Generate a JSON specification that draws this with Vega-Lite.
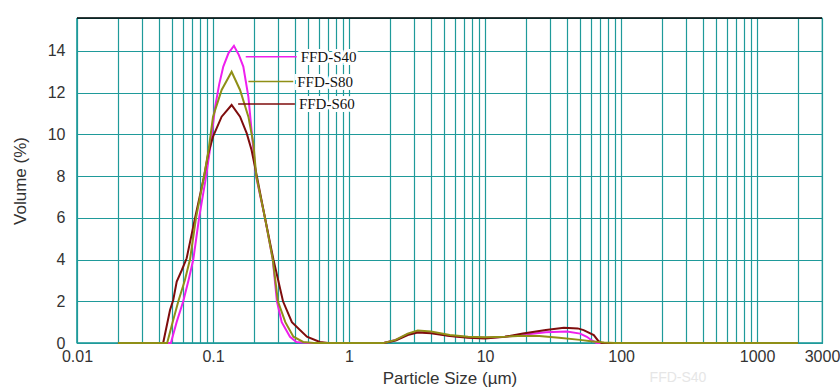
{
  "$schema": "https://vega.github.io/schema/vega-lite/v6.json",
  "width": 745,
  "height": 325,
  "autosize": {"type": "none"},
  "padding": {"left": 77, "top": 18, "right": 18, "bottom": 47},
  "background": "white",
  "config": {
    "view": {"stroke": "#1f9a9a", "strokeWidth": 1.2},
    "axis": {
      "labelFont": "Liberation Sans",
      "labelFontSize": 16,
      "labelColor": "#333333",
      "titleFont": "Liberation Sans",
      "titleFontSize": 17,
      "titleFontWeight": "normal",
      "titleColor": "#333333",
      "gridColor": "#1f9a9a",
      "gridOpacity": 1,
      "gridWidth": 1.2,
      "ticks": false,
      "domain": false
    }
  },
  "datasets": {
    "curves": [
      {"series": "FFD-S40", "size": 0.02, "volume": 0},
      {"series": "FFD-S40", "size": 0.049, "volume": 0},
      {"series": "FFD-S40", "size": 0.054, "volume": 1.0},
      {"series": "FFD-S40", "size": 0.0604, "volume": 2.0},
      {"series": "FFD-S40", "size": 0.066, "volume": 3.0},
      {"series": "FFD-S40", "size": 0.0716, "volume": 4.0},
      {"series": "FFD-S40", "size": 0.079, "volume": 6.0},
      {"series": "FFD-S40", "size": 0.089, "volume": 8.0},
      {"series": "FFD-S40", "size": 0.096, "volume": 9.5},
      {"series": "FFD-S40", "size": 0.1035, "volume": 11.3},
      {"series": "FFD-S40", "size": 0.111, "volume": 12.4},
      {"series": "FFD-S40", "size": 0.119, "volume": 13.25},
      {"series": "FFD-S40", "size": 0.13, "volume": 13.9},
      {"series": "FFD-S40", "size": 0.1425, "volume": 14.25},
      {"series": "FFD-S40", "size": 0.155, "volume": 13.8},
      {"series": "FFD-S40", "size": 0.167, "volume": 13.25},
      {"series": "FFD-S40", "size": 0.182, "volume": 11.8},
      {"series": "FFD-S40", "size": 0.192, "volume": 10.2},
      {"series": "FFD-S40", "size": 0.2, "volume": 9.0},
      {"series": "FFD-S40", "size": 0.207, "volume": 8.0},
      {"series": "FFD-S40", "size": 0.241, "volume": 6.0},
      {"series": "FFD-S40", "size": 0.275, "volume": 4.0},
      {"series": "FFD-S40", "size": 0.295, "volume": 2.0},
      {"series": "FFD-S40", "size": 0.32, "volume": 1.0},
      {"series": "FFD-S40", "size": 0.368, "volume": 0.3},
      {"series": "FFD-S40", "size": 0.41, "volume": 0.05},
      {"series": "FFD-S40", "size": 0.5, "volume": 0},
      {"series": "FFD-S40", "size": 1.8, "volume": 0},
      {"series": "FFD-S40", "size": 2.2, "volume": 0.15},
      {"series": "FFD-S40", "size": 2.7, "volume": 0.42},
      {"series": "FFD-S40", "size": 3.2, "volume": 0.55},
      {"series": "FFD-S40", "size": 4.0, "volume": 0.5},
      {"series": "FFD-S40", "size": 5.5, "volume": 0.35},
      {"series": "FFD-S40", "size": 7.5, "volume": 0.27},
      {"series": "FFD-S40", "size": 10, "volume": 0.25},
      {"series": "FFD-S40", "size": 14, "volume": 0.3},
      {"series": "FFD-S40", "size": 19, "volume": 0.4},
      {"series": "FFD-S40", "size": 28, "volume": 0.51},
      {"series": "FFD-S40", "size": 40, "volume": 0.55},
      {"series": "FFD-S40", "size": 50, "volume": 0.45},
      {"series": "FFD-S40", "size": 56, "volume": 0.3},
      {"series": "FFD-S40", "size": 61, "volume": 0.12},
      {"series": "FFD-S40", "size": 66, "volume": 0},
      {"series": "FFD-S40", "size": 2000, "volume": 0},

      {"series": "FFD-S60", "size": 0.02, "volume": 0},
      {"series": "FFD-S60", "size": 0.043, "volume": 0},
      {"series": "FFD-S60", "size": 0.0483, "volume": 1.58},
      {"series": "FFD-S60", "size": 0.051, "volume": 2.06},
      {"series": "FFD-S60", "size": 0.0541, "volume": 2.94},
      {"series": "FFD-S60", "size": 0.059, "volume": 3.5},
      {"series": "FFD-S60", "size": 0.064, "volume": 4.06},
      {"series": "FFD-S60", "size": 0.0738, "volume": 6.0},
      {"series": "FFD-S60", "size": 0.086, "volume": 8.0},
      {"series": "FFD-S60", "size": 0.0923, "volume": 9.09},
      {"series": "FFD-S60", "size": 0.1, "volume": 9.89},
      {"series": "FFD-S60", "size": 0.1157, "volume": 10.85},
      {"series": "FFD-S60", "size": 0.137, "volume": 11.41},
      {"series": "FFD-S60", "size": 0.158, "volume": 10.85},
      {"series": "FFD-S60", "size": 0.177, "volume": 10.05},
      {"series": "FFD-S60", "size": 0.192, "volume": 9.25},
      {"series": "FFD-S60", "size": 0.21, "volume": 8.0},
      {"series": "FFD-S60", "size": 0.241, "volume": 6.0},
      {"series": "FFD-S60", "size": 0.278, "volume": 4.0},
      {"series": "FFD-S60", "size": 0.327, "volume": 2.0},
      {"series": "FFD-S60", "size": 0.38, "volume": 1.0},
      {"series": "FFD-S60", "size": 0.49, "volume": 0.3},
      {"series": "FFD-S60", "size": 0.61, "volume": 0.05},
      {"series": "FFD-S60", "size": 0.7, "volume": 0},
      {"series": "FFD-S60", "size": 1.8, "volume": 0},
      {"series": "FFD-S60", "size": 2.2, "volume": 0.12},
      {"series": "FFD-S60", "size": 2.7, "volume": 0.38},
      {"series": "FFD-S60", "size": 3.2, "volume": 0.5},
      {"series": "FFD-S60", "size": 4.0, "volume": 0.47},
      {"series": "FFD-S60", "size": 5.5, "volume": 0.33},
      {"series": "FFD-S60", "size": 7.5, "volume": 0.25},
      {"series": "FFD-S60", "size": 10, "volume": 0.22},
      {"series": "FFD-S60", "size": 14, "volume": 0.3},
      {"series": "FFD-S60", "size": 19, "volume": 0.46},
      {"series": "FFD-S60", "size": 28, "volume": 0.62},
      {"series": "FFD-S60", "size": 38, "volume": 0.73},
      {"series": "FFD-S60", "size": 48, "volume": 0.7},
      {"series": "FFD-S60", "size": 53, "volume": 0.62},
      {"series": "FFD-S60", "size": 63, "volume": 0.38},
      {"series": "FFD-S60", "size": 68, "volume": 0.1},
      {"series": "FFD-S60", "size": 72, "volume": 0},
      {"series": "FFD-S60", "size": 2000, "volume": 0},

      {"series": "FFD-S80", "size": 0.02, "volume": 0},
      {"series": "FFD-S80", "size": 0.046, "volume": 0},
      {"series": "FFD-S80", "size": 0.05, "volume": 0.9},
      {"series": "FFD-S80", "size": 0.0556, "volume": 2.0},
      {"series": "FFD-S80", "size": 0.062, "volume": 3.0},
      {"series": "FFD-S80", "size": 0.0677, "volume": 4.0},
      {"series": "FFD-S80", "size": 0.075, "volume": 6.0},
      {"series": "FFD-S80", "size": 0.086, "volume": 8.0},
      {"series": "FFD-S80", "size": 0.093, "volume": 9.3},
      {"series": "FFD-S80", "size": 0.1, "volume": 10.85},
      {"series": "FFD-S80", "size": 0.1157, "volume": 12.13},
      {"series": "FFD-S80", "size": 0.137, "volume": 13.0},
      {"series": "FFD-S80", "size": 0.158, "volume": 12.13},
      {"series": "FFD-S80", "size": 0.182, "volume": 10.85},
      {"series": "FFD-S80", "size": 0.198, "volume": 9.57},
      {"series": "FFD-S80", "size": 0.208, "volume": 8.0},
      {"series": "FFD-S80", "size": 0.241, "volume": 6.0},
      {"series": "FFD-S80", "size": 0.275, "volume": 4.0},
      {"series": "FFD-S80", "size": 0.3, "volume": 2.0},
      {"series": "FFD-S80", "size": 0.34, "volume": 1.0},
      {"series": "FFD-S80", "size": 0.39, "volume": 0.3},
      {"series": "FFD-S80", "size": 0.46, "volume": 0.05},
      {"series": "FFD-S80", "size": 0.55, "volume": 0},
      {"series": "FFD-S80", "size": 1.8, "volume": 0},
      {"series": "FFD-S80", "size": 2.2, "volume": 0.15},
      {"series": "FFD-S80", "size": 2.7, "volume": 0.45},
      {"series": "FFD-S80", "size": 3.2, "volume": 0.6},
      {"series": "FFD-S80", "size": 4.0, "volume": 0.55},
      {"series": "FFD-S80", "size": 5.5, "volume": 0.38},
      {"series": "FFD-S80", "size": 7.5, "volume": 0.3},
      {"series": "FFD-S80", "size": 10, "volume": 0.28},
      {"series": "FFD-S80", "size": 14, "volume": 0.3},
      {"series": "FFD-S80", "size": 19, "volume": 0.35},
      {"series": "FFD-S80", "size": 25, "volume": 0.33},
      {"series": "FFD-S80", "size": 35, "volume": 0.25},
      {"series": "FFD-S80", "size": 50, "volume": 0.15},
      {"series": "FFD-S80", "size": 60, "volume": 0.08},
      {"series": "FFD-S80", "size": 75, "volume": 0.02},
      {"series": "FFD-S80", "size": 90, "volume": 0},
      {"series": "FFD-S80", "size": 2000, "volume": 0}
    ],
    "labels": [
      {"series": "FFD-S40", "from": 0.174, "to": 0.412, "level": 13.72},
      {"series": "FFD-S80", "from": 0.182, "to": 0.389, "level": 12.53},
      {"series": "FFD-S60", "from": 0.153, "to": 0.4, "level": 11.46}
    ],
    "notes": [
      {"note": "FFD-S40", "size": 262, "volume": -1.7}
    ]
  },
  "layer": [
    {
      "data": {"name": "notes"},
      "mark": {"type": "rule", "color": "#1f9a9a", "strokeWidth": 1.5},
      "encoding": {"x": {"datum": 0.01, "type": "quantitative"}}
    },
    {
      "data": {"name": "notes"},
      "mark": {"type": "rule", "color": "#1f9a9a", "strokeWidth": 1.5},
      "encoding": {"y": {"datum": 0, "type": "quantitative"}}
    },
    {
      "data": {"name": "curves"},
      "mark": {"type": "line", "strokeWidth": 2, "interpolate": "linear"},
      "encoding": {
        "x": {
          "field": "size",
          "type": "quantitative",
          "scale": {"type": "log", "domain": [0.01, 3000], "nice": false},
          "axis": {
            "title": "Particle Size (µm)",
            "values": [0.01, 0.02, 0.03, 0.04, 0.05, 0.06, 0.07, 0.08, 0.09, 0.1, 0.2, 0.3, 0.4, 0.5, 0.6, 0.7, 0.8, 0.9, 1, 2, 3, 4, 5, 6, 7, 8, 9, 10, 20, 30, 40, 50, 60, 70, 80, 90, 100, 200, 300, 400, 500, 600, 700, 800, 900, 1000, 2000, 3000],
            "format": "~g",
            "labelExpr": "indexof([0.01, 0.1, 1, 10, 100, 1000, 3000], datum.value) >= 0 ? datum.label : ''",
            "labelOverlap": false,
            "labelBound": false,
            "labelFlush": false,
            "grid": true,
            "labelPadding": 5,
            "titlePadding": 6
          }
        },
        "y": {
          "field": "volume",
          "type": "quantitative",
          "scale": {"domain": [0, 15.58], "nice": false},
          "axis": {
            "title": "Volume (%)",
            "values": [0, 2, 4, 6, 8, 10, 12, 14],
            "grid": true,
            "labelPadding": 12,
            "titlePadding": 18
          }
        },
        "color": {
          "field": "series",
          "type": "nominal",
          "scale": {"domain": ["FFD-S40", "FFD-S60", "FFD-S80"], "range": ["#ee1fee", "#7e0c0c", "#8f8f16"]},
          "legend": null
        }
      }
    },
    {
      "data": {"name": "notes"},
      "mark": {"type": "rule", "color": "#000000", "strokeWidth": 1.5},
      "encoding": {"y": {"datum": 15.58, "type": "quantitative"}}
    },
    {
      "data": {"name": "labels"},
      "mark": {"type": "rule", "strokeWidth": 1.5},
      "encoding": {
        "x": {"field": "from", "type": "quantitative"},
        "x2": {"field": "to"},
        "y": {"field": "level", "type": "quantitative"},
        "color": {"field": "series", "type": "nominal", "legend": null}
      }
    },
    {
      "data": {"name": "labels"},
      "mark": {"type": "text", "align": "left", "baseline": "middle", "dx": 4, "font": "Liberation Serif", "fontSize": 15, "color": "white", "stroke": "white", "strokeWidth": 6},
      "encoding": {
        "x": {"field": "to", "type": "quantitative"},
        "y": {"field": "level", "type": "quantitative"},
        "text": {"field": "series"}
      }
    },
    {
      "data": {"name": "labels"},
      "mark": {"type": "text", "align": "left", "baseline": "middle", "dx": 4, "font": "Liberation Serif", "fontSize": 15, "color": "#111111"},
      "encoding": {
        "x": {"field": "to", "type": "quantitative"},
        "y": {"field": "level", "type": "quantitative"},
        "text": {"field": "series"}
      }
    },
    {
      "data": {"name": "notes"},
      "mark": {"type": "text", "align": "center", "baseline": "middle", "font": "Liberation Sans", "fontSize": 14, "color": "#e6e6e6"},
      "encoding": {
        "x": {"field": "size", "type": "quantitative"},
        "y": {"field": "volume", "type": "quantitative"},
        "text": {"field": "note"}
      }
    }
  ]
}
